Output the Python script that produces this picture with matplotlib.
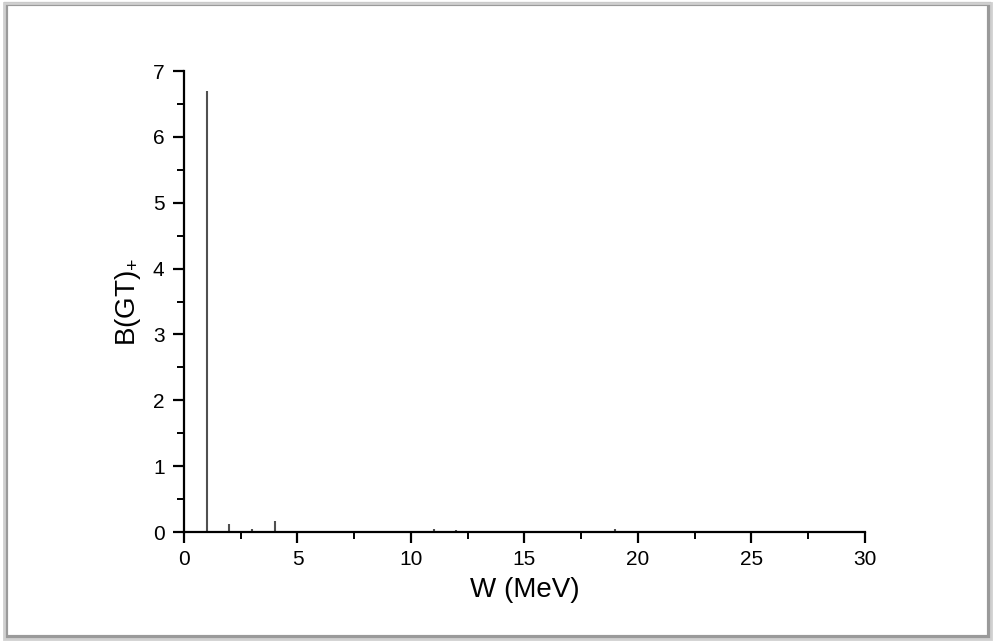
import matplotlib
matplotlib.use("Agg")
import matplotlib.pyplot as plt
from matplotlib.patches import Rectangle

plt.rcParams['font.family'] = ['Liberation Sans', 'DejaVu Sans']
plt.rcParams['mathtext.fontset'] = 'custom'
plt.rcParams['mathtext.rm'] = 'Liberation Sans'

# Data: excitation energy W (MeV) and B(GT)+ strengths
W = [1, 2, 3, 4, 6, 7, 8, 9, 11, 12, 13, 16, 17, 18, 19, 21, 22, 23, 24, 27]
bgt = [6.70, 0.12, 0.05, 0.17, 0.01, 0.02, 0.01, 0.01, 0.05, 0.03, 0.01,
       0.01, 0.01, 0.02, 0.04, 0.01, 0.02, 0.02, 0.02, 0.01]

x_ticks = [0, 5, 10, 15, 20, 25, 30]
y_ticks = [0, 1, 2, 3, 4, 5, 6, 7]

fig = plt.figure(figsize=(9.95, 6.42), dpi=100)

# framed-panel look
fig.patches.append(Rectangle((0.006, 0.008), 0.988, 0.986, transform=fig.transFigure,
                             facecolor='none', edgecolor='#9a9a9a', linewidth=3, zorder=0))
fig.patches.append(Rectangle((0.004, 0.005), 0.992, 0.99, transform=fig.transFigure,
                             facecolor='none', edgecolor='#d0d0d0', linewidth=2, zorder=0))

ax = fig.add_axes([0.1849, 0.1713, 0.6844, 0.7181])
ax.vlines(W, 0, bgt, colors='#505050', linewidth=1.5)

ax.set_xlim(0, 30)
ax.set_ylim(0, 7)
ax.set_xticks(x_ticks)
ax.set_yticks(y_ticks)
ax.set_xticks([2.5 + 5 * i for i in range(6)], minor=True)
ax.set_yticks([0.5 + i for i in range(7)], minor=True)

for s in ['top', 'right']:
    ax.spines[s].set_visible(False)
for s in ['left', 'bottom']:
    ax.spines[s].set_linewidth(1.6)

ax.tick_params(which='major', direction='out', length=8, width=1.6, labelsize=15)
ax.tick_params(axis='x', which='major', pad=5)
ax.tick_params(axis='y', which='major', pad=6)
ax.tick_params(which='minor', direction='out', length=5, width=1.4)

ax.set_xlabel('W (MeV)', fontsize=20, labelpad=6)
ax.set_ylabel('B(GT)$_{+}$', fontsize=20, labelpad=7)

fig.savefig('out.png', dpi=100)
